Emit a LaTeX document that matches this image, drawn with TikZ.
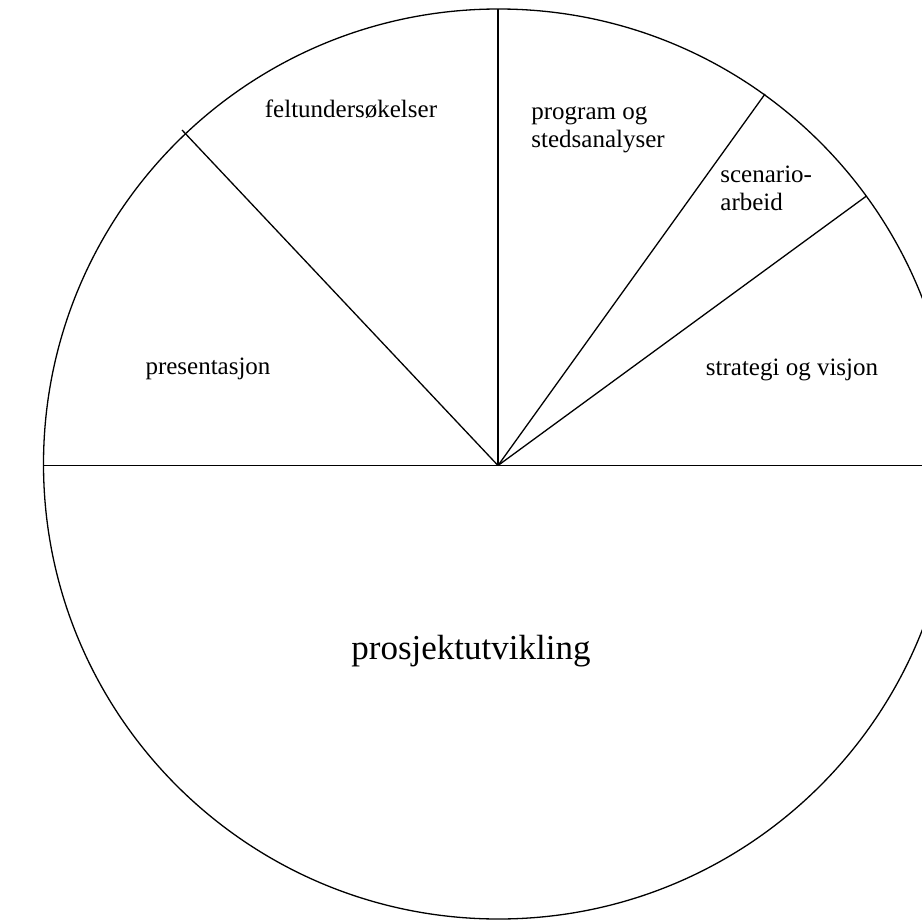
\documentclass[tikz,border=0pt]{standalone}
\usepackage{fontspec}
\setmainfont{Liberation Serif}
\begin{document}
\begin{tikzpicture}[x=0.5pt,y=-0.5pt,
  rim/.style={line width=0.65pt},
  spoke/.style={line width=0.65pt},
  sector/.style={inner sep=0pt, font=\fontsize{12.5}{14}\selectfont},
  bigsector/.style={inner sep=0pt, font=\fontsize{17.5}{20}\selectfont}]
  \useasboundingbox (0,0) rectangle (922,921);
  \clip (0,0) rectangle (922,921);

  % hub and rim
  \coordinate (hub) at (498,465.5);
  \draw[rim] (498.5,464) circle[radius=455];

  % rim ends of the spokes
  \coordinate (w)   at (43.5,465.5);
  \coordinate (e)   at (960,465.5);
  \coordinate (n)   at (498,9);
  \coordinate (nw)  at (182,130);
  \coordinate (nne) at (765,94);
  \coordinate (ne)  at (866.5,196);

  % spokes dividing the sectors
  \draw[spoke] (w) -- (e);
  \draw[spoke] (hub) -- (n);
  \draw[spoke] (hub) -- (nw);
  \draw[spoke] (hub) -- (nne);
  \draw[spoke] (hub) -- (ne);

  % sector labels
  \node[sector, anchor=base] (felt) at (351,117.5) {feltundersøkelser};
  \node[sector, anchor=west, align=left] (prog) at (531,130) {program og\\stedsanalyser};
  \node[sector, anchor=west, align=left] (scen) at (720,188) {scenario-\\arbeid};
  \node[sector, anchor=base] (pres) at (208,374) {presentasjon};
  \node[sector, anchor=base] (strat) at (792,375) {strategi og visjon};
  \node[bigsector, anchor=base] (prosj) at (471,659) {prosjektutvikling};
\end{tikzpicture}
\end{document}
